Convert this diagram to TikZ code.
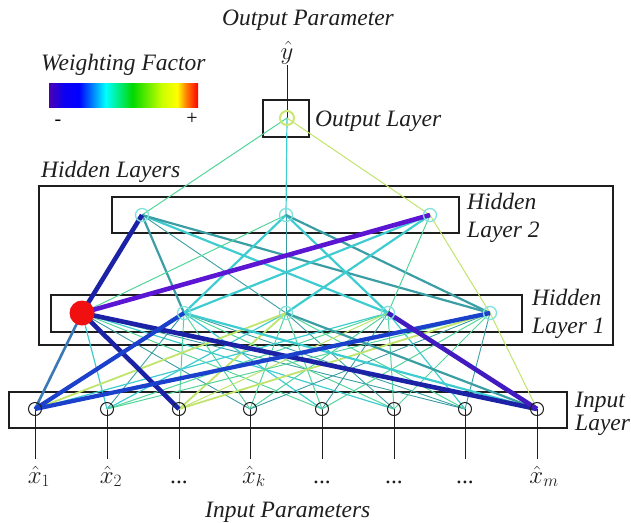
\documentclass[tikz,border=0pt]{standalone}
\usepackage{fontspec}
\setmainfont{Liberation Serif}
\usetikzlibrary{backgrounds}
\definecolor{ink}{HTML}{1E1E1E}
\definecolor{wviolet}{HTML}{5A16D2}
\definecolor{wnavy}{HTML}{1B22A6}
\definecolor{wblue}{HTML}{1A40CC}
\definecolor{wsteel}{HTML}{3A78B6}
\definecolor{wteal}{HTML}{3A9EA4}
\definecolor{wcyan}{HTML}{3ECCD0}
\definecolor{wgreen}{HTML}{52D49A}
\definecolor{wlime}{HTML}{C0E46C}
\definecolor{unitcyan}{HTML}{80E2DC}
\definecolor{unitlime}{HTML}{C8E870}
\definecolor{unitred}{HTML}{F01010}
\pgfdeclarehorizontalshading{jetbar}{100bp}{
  color(0bp)=(violet!60!blue); color(25bp)=(violet!60!blue);
  color(30bp)=(blue!90!violet); color(35bp)=(blue);
  color(44bp)=(cyan); color(53bp)=(green!85!black);
  color(63bp)=(yellow!80!green); color(68bp)=(yellow);
  color(71bp)=(orange); color(75bp)=(red); color(100bp)=(red)}
\tikzset{
  caption/.style={
    anchor=base west,
    inner sep=0pt,
    align=left,
    text=ink,
    font=\itshape\fontsize{23.5}{28}\selectfont
  },
  symbol/.style={
    anchor=base,
    inner sep=0pt,
    text height=24pt,
    text depth=6pt,
    text=ink,
    font=\fontsize{23.5}{28}\selectfont
  },
  layer box/.style={draw=ink, line width=1.1pt},
  hidden unit/.style={
    circle,
    draw=unitcyan,
    line width=1.3pt,
    minimum size=13pt,
    inner sep=0pt
  },
  input unit/.style={
    circle,
    draw=ink,
    line width=1pt,
    minimum size=13pt,
    inner sep=0pt
  },
  lead/.style={draw=ink, line width=1pt},
  wt violet/.style={draw=wviolet, line width=4.6pt},
  wt navy/.style={draw=wnavy, line width=4.6pt},
  wt blue/.style={draw=wblue, line width=4.2pt},
  wt steel/.style={draw=wsteel, line width=2.6pt},
  wt teal/.style={draw=wteal, line width=2.2pt},
  wt cyan/.style={draw=wcyan, line width=2.2pt},
  wt thin/.style={draw=wteal, line width=0.9pt},
  wt fine/.style={draw=wcyan, line width=1.2pt},
  wt green/.style={draw=wgreen, line width=1pt},
  wt lime/.style={draw=wlime, line width=1.8pt}
}

\begin{document}
\begin{tikzpicture}[x=1pt,y=-1pt]
  \useasboundingbox (0,0) rectangle (631,522);

  % legend
  \node[caption] at (41,70) {Weighting Factor};
  \node[shade, shading=jetbar, minimum width=149pt, minimum height=24pt,
    inner sep=0pt] (legend-bar) at (123.5,95) {};
  \node[anchor=base, inner sep=0pt, font=\fontsize{20}{24}\selectfont]
    (legend-neg) at (58,125) {-};
  \node[anchor=base, inner sep=0pt, font=\fontsize{20}{24}\selectfont]
    (legend-pos) at (192,124) {+};

  % output
  \node[caption] at (222,25) {Output Parameter};
  \node[symbol, text height=18pt] (yhat) at (287,59) {$\hat{y}$};
  \node[circle, draw=unitlime, line width=2pt, minimum size=14pt, inner sep=0pt]
    (out) at (287,118) {};
  \node[caption] at (315,126) {Output Layer};

  % hidden layers
  \node[caption] at (41,177) {Hidden Layers};
  \node[hidden unit] (hid2-1) at (142,215) {};
  \node[hidden unit] (hid2-2) at (286,215) {};
  \node[hidden unit] (hid2-3) at (430,215) {};
  \node[caption] at (467,237) {Hidden\\Layer 2};

  \node[circle, fill=unitred, minimum size=25pt, inner sep=0pt]
    (hid1-1) at (82,313) {};
  \node[hidden unit] (hid1-2) at (184,313) {};
  \node[hidden unit] (hid1-3) at (286,313) {};
  \node[hidden unit] (hid1-4) at (388,313) {};
  \node[hidden unit] (hid1-5) at (490,313) {};
  \node[caption] at (532,333) {Hidden\\Layer 1};

  % inputs
  \node[input unit] (in-1) at (35,409) {};
  \node[input unit] (in-2) at (107,409) {};
  \node[input unit] (in-3) at (179,409) {};
  \node[input unit] (in-4) at (250,409) {};
  \node[input unit] (in-5) at (322,409) {};
  \node[input unit] (in-6) at (394,409) {};
  \node[input unit] (in-7) at (465,409) {};
  \node[input unit] (in-8) at (537,409) {};
  \node[caption] at (575,430) {Input\\[-5pt]Layer};

  \node[symbol, xshift=4pt] (lab-1) at (35,483) {$\hat{x}_1$};
  \node[symbol, xshift=4pt] (lab-2) at (107,483) {$\hat{x}_2$};
  \node[symbol] (lab-3) at (179,483) {...};
  \node[symbol, xshift=4pt] (lab-4) at (250,483) {$\hat{x}_k$};
  \node[symbol] (lab-5) at (322,483) {...};
  \node[symbol] (lab-6) at (394,483) {...};
  \node[symbol] (lab-7) at (465,483) {...};
  \node[symbol, xshift=7pt] (lab-8) at (537,483) {$\hat{x}_m$};
  \node[caption] at (205,517) {Input Parameters};

  \begin{scope}[on background layer]
    \draw[layer box] (263,100) rectangle (309,137);
    \draw[layer box] (39,186) rectangle (613,345);
    \draw[layer box] (112,197) rectangle (459,233);
    \draw[layer box] (51,295) rectangle (522,332);
    \draw[layer box] (9,392) rectangle (567,428);

    \draw[lead] (yhat.south) -- (out.center);
    \draw[lead] (in-1.center) -- (in-1 |- lab-1.north);
    \draw[lead] (in-2.center) -- (in-2 |- lab-2.north);
    \draw[lead] (in-3.center) -- (in-3 |- lab-3.north);
    \draw[lead] (in-4.center) -- (in-4 |- lab-4.north);
    \draw[lead] (in-5.center) -- (in-5 |- lab-5.north);
    \draw[lead] (in-6.center) -- (in-6 |- lab-6.north);
    \draw[lead] (in-7.center) -- (in-7 |- lab-7.north);
    \draw[lead] (in-8.center) -- (in-8 |- lab-8.north);

    % output to hidden layer 2
    \draw[wt green] (out.center) -- (hid2-1.center);
    \draw[wt fine] (out.center) -- (hid2-2.center);
    \draw[wt green, draw=wlime] (out.center) -- (hid2-3.center);

    % hidden layer 2 to hidden layer 1
    \draw[wt teal] (hid2-1.center) -- (hid1-2.center);
    \draw[wt thin] (hid2-1.center) -- (hid1-3.center);
    \draw[wt cyan] (hid2-1.center) -- (hid1-4.center);
    \draw[wt teal] (hid2-1.center) -- (hid1-5.center);
    \draw[wt green] (hid2-2.center) -- (hid1-1.center);
    \draw[wt cyan] (hid2-2.center) -- (hid1-2.center);
    \draw[wt thin] (hid2-2.center) -- (hid1-3.center);
    \draw[wt cyan] (hid2-2.center) -- (hid1-4.center);
    \draw[wt teal] (hid2-2.center) -- (hid1-5.center);
    \draw[wt cyan] (hid2-3.center) -- (hid1-2.center);
    \draw[wt cyan] (hid2-3.center) -- (hid1-3.center);
    \draw[wt green] (hid2-3.center) -- (hid1-4.center);
    \draw[wt green, draw=wlime] (hid2-3.center) -- (hid1-5.center);

    % hidden layer 1 to inputs
    \draw[wt fine] (hid1-1.center) -- (in-2.center);
    \draw[wt thin] (hid1-1.center) -- (in-4.center);
    \draw[wt green] (hid1-1.center) -- (in-5.center);
    \draw[wt fine] (hid1-1.center) -- (in-6.center);
    \draw[wt thin] (hid1-1.center) -- (in-7.center);
    \draw[wt thin] (hid1-2.center) -- (in-2.center);
    \draw[wt green] (hid1-2.center) -- (in-3.center);
    \draw[wt green] (hid1-2.center) -- (in-4.center);
    \draw[wt fine] (hid1-2.center) -- (in-5.center);
    \draw[wt green] (hid1-2.center) -- (in-6.center);
    \draw[wt thin] (hid1-2.center) -- (in-7.center);
    \draw[wt fine] (hid1-3.center) -- (in-2.center);
    \draw[wt lime] (hid1-3.center) -- (in-3.center);
    \draw[wt green] (hid1-3.center) -- (in-4.center);
    \draw[wt green] (hid1-3.center) -- (in-5.center);
    \draw[wt thin] (hid1-3.center) -- (in-6.center);
    \draw[wt green] (hid1-3.center) -- (in-7.center);
    \draw[wt fine] (hid1-4.center) -- (in-1.center);
    \draw[wt green] (hid1-4.center) -- (in-2.center);
    \draw[wt green, draw=wlime] (hid1-4.center) -- (in-3.center);
    \draw[wt green] (hid1-4.center) -- (in-4.center);
    \draw[wt thin] (hid1-4.center) -- (in-5.center);
    \draw[wt green] (hid1-4.center) -- (in-6.center);
    \draw[wt fine] (hid1-4.center) -- (in-7.center);
    \draw[wt green] (hid1-5.center) -- (in-2.center);
    \draw[wt thin] (hid1-5.center) -- (in-4.center);
    \draw[wt green] (hid1-5.center) -- (in-5.center);
    \draw[wt green] (hid1-5.center) -- (in-6.center);
    \draw[wt thin] (hid1-5.center) -- (in-7.center);
    \draw[wt green, draw=wlime] (hid1-5.center) -- (in-8.center);
    \draw[wt lime] (hid1-3.center) -- (in-1.center);
    \draw[wt lime] (hid1-5.center) -- (in-3.center);
    \draw[wt cyan] (hid1-2.center) -- (in-8.center);
    \draw[wt teal] (hid1-3.center) -- (in-8.center);
    \draw[wt steel] (hid1-1.center) -- (in-1.center);

    % strongest weights on top
    \draw[wt navy] (hid2-1.center) -- (hid1-1.center);
    \draw[wt violet] (hid2-3.center) -- (hid1-1.center);
    \draw[wt navy] (hid1-1.center) -- (in-3.center);
    \draw[wt navy] (hid1-1.center) -- (in-8.center);
    \draw[wt blue] (hid1-2.center) -- (in-1.center);
    \draw[wt blue] (hid1-5.center) -- (in-1.center);
    \draw[wt violet, draw=wviolet!60!wnavy] (hid1-4.center) -- (in-8.center);
  \end{scope}
\end{tikzpicture}
\end{document}
